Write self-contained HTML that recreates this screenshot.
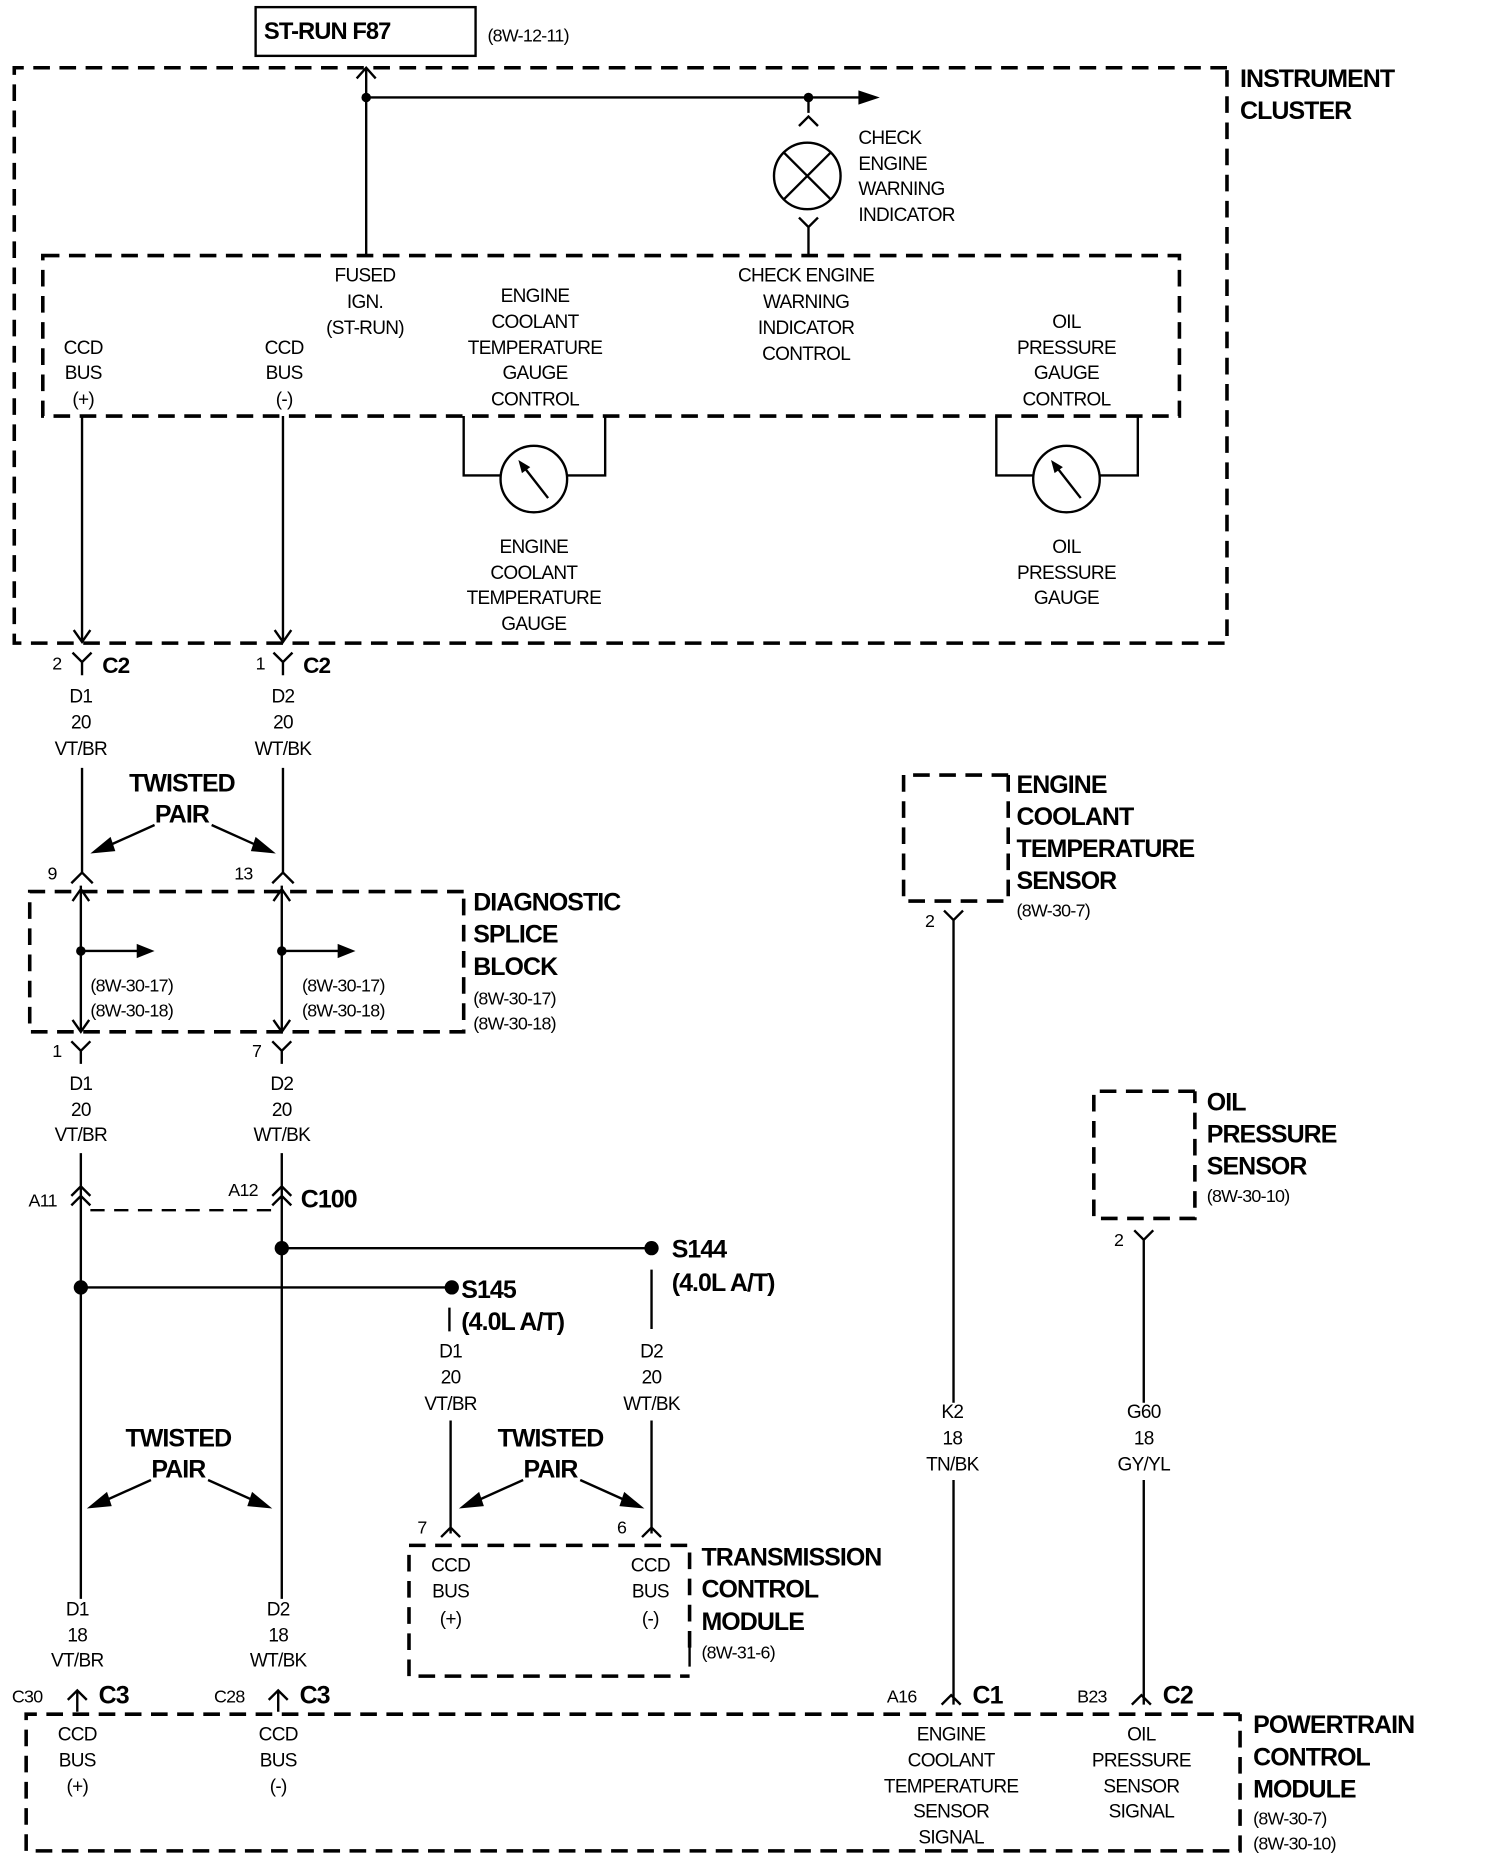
<!DOCTYPE html>
<html><head><meta charset="utf-8"><style>
html,body{margin:0;padding:0;background:#fff}
svg{display:block}
text{font-family:"Liberation Sans",sans-serif;fill:#000}
.t{font-size:16px;text-anchor:middle;letter-spacing:-0.6px}
.l{font-size:15px;letter-spacing:-0.6px}
.b{font-size:21px;font-weight:bold;letter-spacing:-0.8px}
.d{fill:none;stroke:#000;stroke-width:3;stroke-dasharray:14 8}
.w{fill:none;stroke:#000;stroke-width:2}
</style></head><body>
<svg width="1504" height="1858" viewBox="0 0 1265 1563" preserveAspectRatio="none" xmlns="http://www.w3.org/2000/svg">
<rect x="0" y="0" width="1265" height="1563" fill="#fff"/>
<!-- ST-RUN -->
<rect x="215" y="6" width="185" height="41" class="w" stroke-width="2.5"/>
<text x="222" y="33" class="b" style="font-size:20px">ST-RUN F87</text>
<text x="410" y="35" class="l">(8W-12-11)</text>
<!-- instrument cluster -->
<path d="M1032,57 L12,57 L12,541 L1032,541 L1032,57" class="d"/>
<text x="1043" y="73" class="b">INSTRUMENT</text>
<text x="1043" y="100" class="b">CLUSTER</text>
<path d="M308,57 L308,215 M300,66 L308,57 L316,66 M308,82 L725,82 M680,82 L680,95 M672,106 L680,98 L688,106 M672,183 L680,191 L688,183 M680,191 L680,215" class="w"/>
<polygon points="722,76 740,82 722,88"/>
<circle cx="308" cy="82" r="4"/><circle cx="680" cy="82" r="4"/>
<circle cx="679" cy="148" r="28" class="w"/>
<path d="M659,128 L699,168 M699,128 L659,168" class="w"/>
<text class="t" x="722" y="121" style="text-anchor:start">CHECK</text>
<text class="t" x="722" y="143" style="text-anchor:start">ENGINE</text>
<text class="t" x="722" y="164" style="text-anchor:start">WARNING</text>
<text class="t" x="722" y="186" style="text-anchor:start">INDICATOR</text>
<path d="M36,215 L992,215 L992,350 L36,350 Z" class="d"/>
<text class="t" x="307" y="237">FUSED</text><text class="t" x="307" y="259">IGN.</text><text class="t" x="307" y="281">(ST-RUN)</text>
<text class="t" x="450" y="254">ENGINE</text><text class="t" x="450" y="276">COOLANT</text><text class="t" x="450" y="298">TEMPERATURE</text><text class="t" x="450" y="319">GAUGE</text><text class="t" x="450" y="341">CONTROL</text>
<text class="t" x="678" y="237">CHECK ENGINE</text><text class="t" x="678" y="259">WARNING</text><text class="t" x="678" y="281">INDICATOR</text><text class="t" x="678" y="303">CONTROL</text>
<text class="t" x="897" y="276">OIL</text><text class="t" x="897" y="298">PRESSURE</text><text class="t" x="897" y="319">GAUGE</text><text class="t" x="897" y="341">CONTROL</text>
<text class="t" x="70" y="298">CCD</text><text class="t" x="70" y="319">BUS</text><text class="t" x="70" y="341">(+)</text>
<text class="t" x="239" y="298">CCD</text><text class="t" x="239" y="319">BUS</text><text class="t" x="239" y="341">(-)</text>
<!-- gauges -->
<path d="M390,350 L390,400 L421,400 M509,350 L509,400 L477,400 M838,350 L838,400 L869,400 M957,350 L957,400 L925,400" class="w"/>
<circle cx="449" cy="403" r="28" class="w"/><circle cx="897" cy="403" r="28" class="w"/>
<path d="M461,419 L440,392 M909,419 L888,392" class="w"/>
<polygon points="436,387 446,393 439,398"/><polygon points="884,387 894,393 887,398"/>
<text class="t" x="449" y="465">ENGINE</text><text class="t" x="449" y="487">COOLANT</text><text class="t" x="449" y="508">TEMPERATURE</text><text class="t" x="449" y="530">GAUGE</text>
<text class="t" x="897" y="465">OIL</text><text class="t" x="897" y="487">PRESSURE</text><text class="t" x="897" y="508">GAUGE</text>
<!-- C2 wires -->
<path d="M69,350 L69,540 M62,530 L69,540 L76,530 M238,350 L238,540 M231,530 L238,540 L245,530" class="w"/>
<path d="M61,549 L69,557 L77,549 M69,557 L69,568 M230,549 L238,557 L246,549 M238,557 L238,568" class="w"/>
<text class="l" x="44" y="563">2</text><text class="b" x="86" y="566" style="font-size:19px">C2</text>
<text class="l" x="215" y="563">1</text><text class="b" x="255" y="566" style="font-size:19px">C2</text>
<text class="t" x="68" y="591">D1</text><text class="t" x="68" y="613">20</text><text class="t" x="68" y="635">VT/BR</text>
<text class="t" x="238" y="591">D2</text><text class="t" x="238" y="613">20</text><text class="t" x="238" y="635">WT/BK</text>
<path d="M69,646 L69,735 M238,646 L238,735 M60,743 L69,734 L78,743 M229,743 L238,734 L247,743" class="w"/>
<text class="l" x="40" y="740">9</text><text class="l" x="197" y="740">13</text>
<text class="b" x="153" y="666" style="text-anchor:middle">TWISTED</text><text class="b" x="153" y="692" style="text-anchor:middle">PAIR</text>
<path d="M130,694 L90,712 M178,694 L218,712" class="w"/>
<polygon points="76,718 93,704 97,716"/><polygon points="232,718 215,704 211,716"/>
<!-- diagnostic splice -->
<path d="M390,750 L25,750 L25,868 L390,868 L390,750" class="d"/>
<text class="b" x="398" y="766">DIAGNOSTIC</text><text class="b" x="398" y="793">SPLICE</text><text class="b" x="398" y="820">BLOCK</text>
<text class="l" x="398" y="845">(8W-30-17)</text><text class="l" x="398" y="866">(8W-30-18)</text>
<path d="M68,745 L68,868 M61,758 L68,748 L75,758 M61,858 L68,868 L75,858 M68,800 L118,800 M237,745 L237,868 M230,758 L237,748 L244,758 M230,858 L237,868 L244,858 M237,800 L287,800" class="w"/>
<circle cx="68" cy="800" r="4"/><circle cx="237" cy="800" r="4"/>
<polygon points="115,794 130,800 115,806"/><polygon points="284,794 299,800 284,806"/>
<text class="l" x="76" y="834">(8W-30-17)</text><text class="l" x="76" y="855">(8W-30-18)</text>
<text class="l" x="254" y="834">(8W-30-17)</text><text class="l" x="254" y="855">(8W-30-18)</text>
<path d="M60,876 L68,884 L76,876 M68,884 L68,895 M229,876 L237,884 L245,876 M237,884 L237,895" class="w"/>
<text class="l" x="44" y="889">1</text><text class="l" x="212" y="889">7</text>
<text class="t" x="68" y="917">D1</text><text class="t" x="68" y="939">20</text><text class="t" x="68" y="960">VT/BR</text>
<text class="t" x="237" y="917">D2</text><text class="t" x="237" y="939">20</text><text class="t" x="237" y="960">WT/BK</text>
<!-- C100 -->
<path d="M68,970 L68,1345 M237,970 L237,1345 M60,1006 L68,998 L76,1006 M60,1014 L68,1006 L76,1014 M229,1006 L237,998 L245,1006 M229,1014 L237,1006 L245,1014" class="w"/>
<path d="M76,1018 L230,1018" class="w" stroke-dasharray="12 8"/>
<text class="l" x="24" y="1015">A11</text><text class="l" x="192" y="1006">A12</text>
<text class="b" x="253" y="1016">C100</text>
<path d="M237,1050 L548,1050 M68,1083 L380,1083" class="w" stroke-width="2.5"/>
<circle cx="237" cy="1050" r="6"/><circle cx="548" cy="1050" r="6"/><circle cx="68" cy="1083" r="6"/><circle cx="380" cy="1083" r="6"/>
<text class="b" x="565" y="1058">S144</text><text class="b" x="565" y="1086">(4.0L A/T)</text>
<text class="b" x="388" y="1092">S145</text><text class="b" x="388" y="1119">(4.0L A/T)</text>
<path d="M548,1068 L548,1118 M378,1100 L378,1120" class="w"/>
<text class="t" x="379" y="1142">D1</text><text class="t" x="379" y="1164">20</text><text class="t" x="379" y="1186">VT/BR</text>
<text class="t" x="548" y="1142">D2</text><text class="t" x="548" y="1164">20</text><text class="t" x="548" y="1186">WT/BK</text>
<path d="M379,1195 L379,1290 M548,1195 L548,1290 M371,1293 L379,1285 L387,1293 M540,1293 L548,1285 L556,1293" class="w"/>
<text class="l" x="351" y="1290">7</text><text class="l" x="519" y="1290">6</text>
<text class="b" x="463" y="1217" style="text-anchor:middle">TWISTED</text><text class="b" x="463" y="1243" style="text-anchor:middle">PAIR</text>
<path d="M440,1245 L400,1263 M488,1245 L528,1263" class="w"/>
<polygon points="386,1269 403,1255 407,1267"/><polygon points="542,1269 525,1255 521,1267"/>
<text class="b" x="150" y="1217" style="text-anchor:middle">TWISTED</text><text class="b" x="150" y="1243" style="text-anchor:middle">PAIR</text>
<path d="M127,1245 L87,1263 M175,1245 L215,1263" class="w"/>
<polygon points="73,1269 90,1255 94,1267"/><polygon points="229,1269 212,1255 208,1267"/>
<!-- TCM -->
<path d="M580,1386 L580,1300 L344,1300 L344,1410 L580,1410" class="d"/>
<path d="M580,1385 L580,1402" class="w"/>
<text class="t" x="379" y="1322">CCD</text><text class="t" x="379" y="1344">BUS</text><text class="t" x="379" y="1367">(+)</text>
<text class="t" x="547" y="1322">CCD</text><text class="t" x="547" y="1344">BUS</text><text class="t" x="547" y="1367">(-)</text>
<text class="b" x="590" y="1317">TRANSMISSION</text><text class="b" x="590" y="1344">CONTROL</text><text class="b" x="590" y="1371">MODULE</text>
<text class="l" x="590" y="1395">(8W-31-6)</text>
<!-- bottom wires -->
<text class="t" x="65" y="1359">D1</text><text class="t" x="65" y="1381">18</text><text class="t" x="65" y="1402">VT/BR</text>
<text class="t" x="234" y="1359">D2</text><text class="t" x="234" y="1381">18</text><text class="t" x="234" y="1402">WT/BK</text>
<path d="M65,1422 L65,1440 M57,1430 L65,1422 L73,1430 M234,1422 L234,1440 M226,1430 L234,1422 L242,1430" class="w"/>
<text class="l" x="10" y="1432">C30</text><text class="b" x="83" y="1433">C3</text>
<text class="l" x="180" y="1432">C28</text><text class="b" x="252" y="1433">C3</text>
<!-- PCM -->
<path d="M1043,1442 L22,1442 L22,1557 L1043,1557 L1043,1442" class="d"/>
<text class="t" x="65" y="1464">CCD</text><text class="t" x="65" y="1486">BUS</text><text class="t" x="65" y="1508">(+)</text>
<text class="t" x="234" y="1464">CCD</text><text class="t" x="234" y="1486">BUS</text><text class="t" x="234" y="1508">(-)</text>
<text class="b" x="1054" y="1458">POWERTRAIN</text><text class="b" x="1054" y="1485">CONTROL</text><text class="b" x="1054" y="1512">MODULE</text>
<text class="l" x="1054" y="1535">(8W-30-7)</text><text class="l" x="1054" y="1556">(8W-30-10)</text>
<!-- ECT sensor -->
<path d="M848,652 L760,652 L760,758 L848,758 L848,652" class="d"/>
<text class="b" x="855" y="667">ENGINE</text><text class="b" x="855" y="694">COOLANT</text><text class="b" x="855" y="721">TEMPERATURE</text><text class="b" x="855" y="748">SENSOR</text>
<text class="l" x="855" y="771">(8W-30-7)</text>
<path d="M794,766 L802,774 L810,766 M802,774 L802,1180 M802,1245 L802,1434 M792,1434 L800,1426 L808,1434" class="w"/>
<text class="l" x="778" y="780">2</text>
<text class="t" x="801" y="1193">K2</text><text class="t" x="801" y="1215">18</text><text class="t" x="801" y="1237">TN/BK</text>
<text class="l" x="746" y="1432">A16</text><text class="b" x="818" y="1433">C1</text>
<text class="t" x="800" y="1464">ENGINE</text><text class="t" x="800" y="1486">COOLANT</text><text class="t" x="800" y="1508">TEMPERATURE</text><text class="t" x="800" y="1529">SENSOR</text><text class="t" x="800" y="1551">SIGNAL</text>
<!-- oil sensor -->
<path d="M1005,918 L920,918 L920,1025 L1005,1025 L1005,918" class="d"/>
<text class="b" x="1015" y="934">OIL</text><text class="b" x="1015" y="961">PRESSURE</text><text class="b" x="1015" y="988">SENSOR</text>
<text class="l" x="1015" y="1011">(8W-30-10)</text>
<path d="M954,1035 L962,1043 L970,1035 M962,1043 L962,1180 M962,1245 L962,1434 M952,1434 L960,1426 L968,1434" class="w"/>
<text class="l" x="937" y="1048">2</text>
<text class="t" x="962" y="1193">G60</text><text class="t" x="962" y="1215">18</text><text class="t" x="962" y="1237">GY/YL</text>
<text class="l" x="906" y="1432">B23</text><text class="b" x="978" y="1433">C2</text>
<text class="t" x="960" y="1464">OIL</text><text class="t" x="960" y="1486">PRESSURE</text><text class="t" x="960" y="1508">SENSOR</text><text class="t" x="960" y="1529">SIGNAL</text>
</svg>
</body></html>
